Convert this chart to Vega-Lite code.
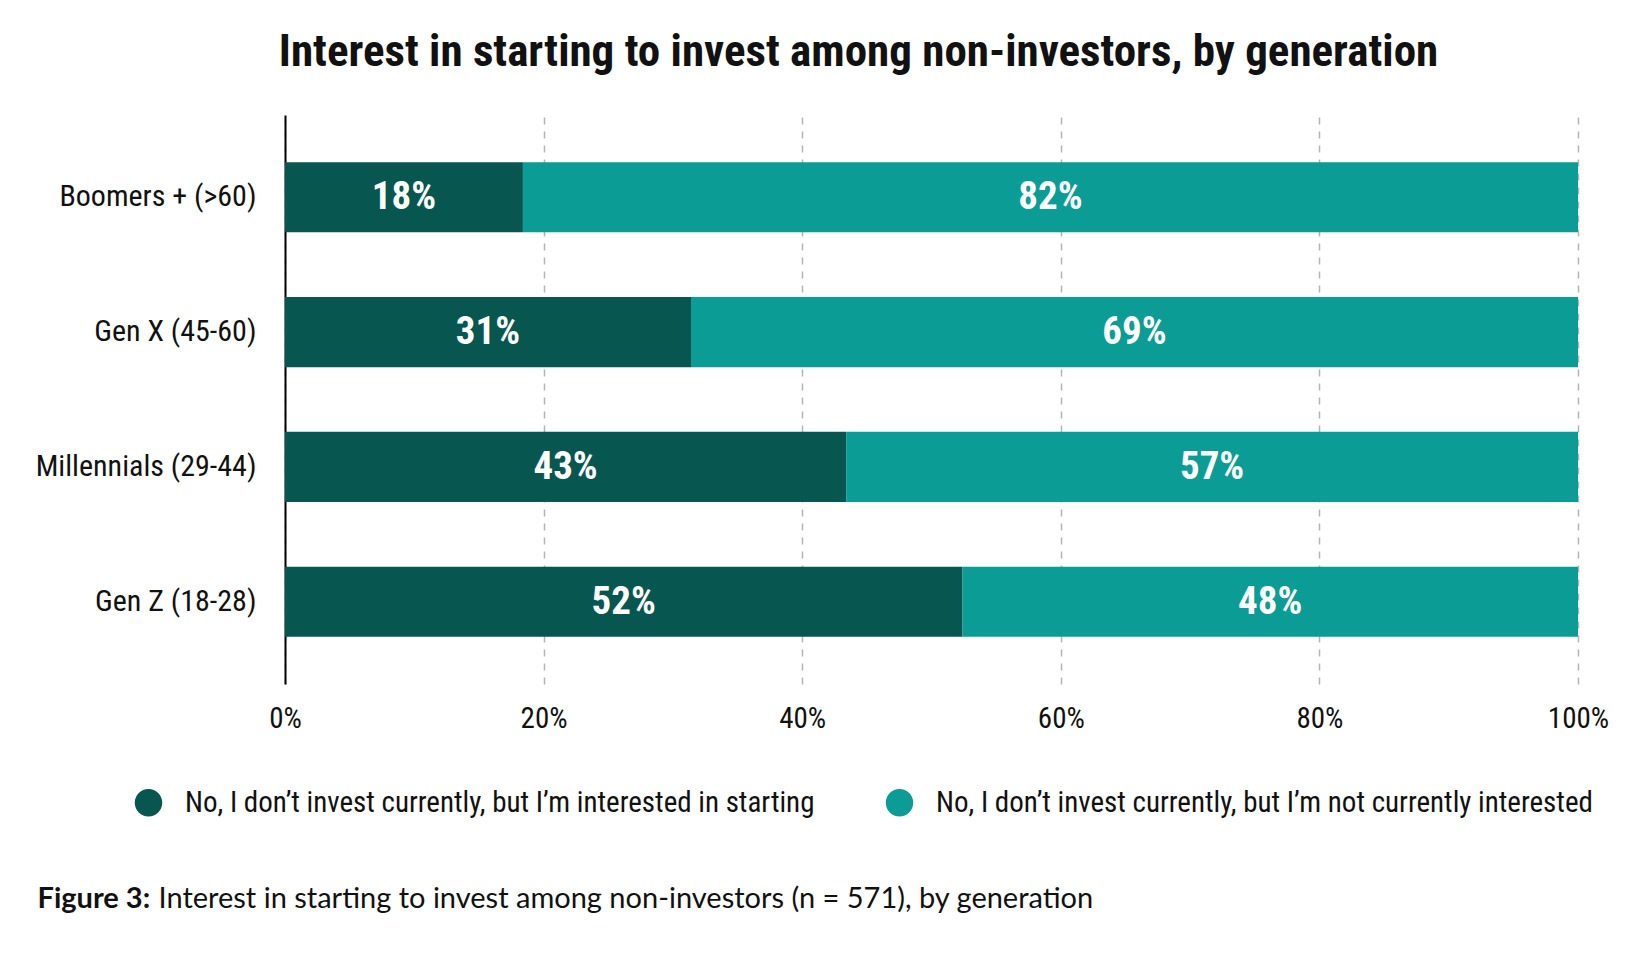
{
  "$schema": "https://vega.github.io/schema/vega-lite/v6.json",
  "autosize": "none",
  "padding": { "left": 285, "top": 115, "right": 59, "bottom": 276 },
  "width": 1293,
  "height": 569,
  "background": "#ffffff",
  "config": {
    "font": "Roboto Condensed, DejaVu Sans Condensed, Roboto",
    "view": { "stroke": null }
  },
  "title": {
    "text": "Interest in starting to invest among non-investors, by generation",
    "font": "Roboto Condensed, DejaVu Sans Condensed, Roboto",
    "fontSize": 45,
    "fontWeight": "bold",
    "color": "#111111",
    "anchor": "middle",
    "dx": -73,
    "offset": 40
  },
  "data": {
    "values": [
      { "gen": "Boomers + (>60)", "resp": "No, I don’t invest currently, but I’m interested in starting", "k": 1, "value": 18.4 },
      { "gen": "Boomers + (>60)", "resp": "No, I don’t invest currently, but I’m not currently interested", "k": 2, "value": 81.6 },
      { "gen": "Gen X (45-60)", "resp": "No, I don’t invest currently, but I’m interested in starting", "k": 1, "value": 31.4 },
      { "gen": "Gen X (45-60)", "resp": "No, I don’t invest currently, but I’m not currently interested", "k": 2, "value": 68.6 },
      { "gen": "Millennials (29-44)", "resp": "No, I don’t invest currently, but I’m interested in starting", "k": 1, "value": 43.4 },
      { "gen": "Millennials (29-44)", "resp": "No, I don’t invest currently, but I’m not currently interested", "k": 2, "value": 56.6 },
      { "gen": "Gen Z (18-28)", "resp": "No, I don’t invest currently, but I’m interested in starting", "k": 1, "value": 52.4 },
      { "gen": "Gen Z (18-28)", "resp": "No, I don’t invest currently, but I’m not currently interested", "k": 2, "value": 47.6 }
    ]
  },
  "encoding": {
    "y": {
      "field": "gen",
      "type": "nominal",
      "sort": ["Boomers + (>60)", "Gen X (45-60)", "Millennials (29-44)", "Gen Z (18-28)"],
      "scale": { "paddingInner": 0.48, "paddingOuter": 0.35 },
      "axis": {
        "title": "Figure 3:",
        "titleFont": "Lato",
        "titleFontSize": 29,
        "titleFontWeight": "bold",
        "titleColor": "#111111",
        "titleAngle": 0,
        "titleAlign": "left",
        "titleBaseline": "middle",
        "titleX": -248,
        "titleY": 783,
        "domainColor": "#000000",
        "domainWidth": 2,
        "ticks": false,
        "labelFontSize": 30,
        "labelColor": "#111111",
        "labelPadding": 29,
        "labelLimit": 400
      }
    }
  },
  "layer": [
    {
      "mark": { "type": "bar" },
      "encoding": {
        "x": {
          "field": "value",
          "type": "quantitative",
          "stack": "zero",
          "scale": { "domain": [0, 100] },
          "axis": {
            "values": [0, 20, 40, 60, 80, 100],
            "labelExpr": "datum.value + '%'",
            "labelFlush": false,
            "labelOverlap": false,
            "domain": false,
            "ticks": false,
            "grid": true,
            "gridColor": "#b5b5b5",
            "gridDash": [7, 7],
            "gridWidth": 1.5,
            "labelFontSize": 29,
            "labelColor": "#111111",
            "labelPadding": 20,
            "title": "Interest in starting to invest among non-investors (n = 571), by generation",
            "titleFont": "Lato",
            "titleFontSize": 29,
            "titleFontWeight": "normal",
            "titleColor": "#111111",
            "titleAnchor": "start",
            "titleAlign": "left",
            "titleBaseline": "middle",
            "titleX": -127,
            "titleY": 214
          }
        },
        "color": {
          "field": "resp",
          "type": "nominal",
          "sort": [
            "No, I don’t invest currently, but I’m interested in starting",
            "No, I don’t invest currently, but I’m not currently interested"
          ],
          "scale": { "range": ["#085650", "#0b9c95"] },
          "legend": {
            "title": null,
            "orient": "none",
            "direction": "horizontal",
            "legendX": -151,
            "legendY": 673,
            "symbolType": "circle",
            "symbolSize": 755,
            "symbolStrokeWidth": 0,
            "symbolOpacity": 1,
            "labelFontSize": 29,
            "labelColor": "#111111",
            "labelOffset": 22,
            "labelLimit": 900,
            "columnPadding": 70
          }
        },
        "order": { "field": "k" }
      }
    },
    {
      "transform": [
        { "stack": "value", "groupby": ["gen"], "sort": [{ "field": "k" }], "as": ["v0", "v1"] },
        { "calculate": "(datum.v0 + datum.v1) / 2", "as": "mid" },
        { "calculate": "format(datum.value, '.0f') + '%'", "as": "label" }
      ],
      "mark": {
        "type": "text",
        "font": "Roboto Condensed, DejaVu Sans Condensed, Roboto",
        "fontSize": 39,
        "fontWeight": "bold",
        "color": "#ffffff",
        "baseline": "middle",
        "align": "center"
      },
      "encoding": {
        "x": { "field": "mid", "type": "quantitative" },
        "text": { "field": "label" }
      }
    }
  ]
}
